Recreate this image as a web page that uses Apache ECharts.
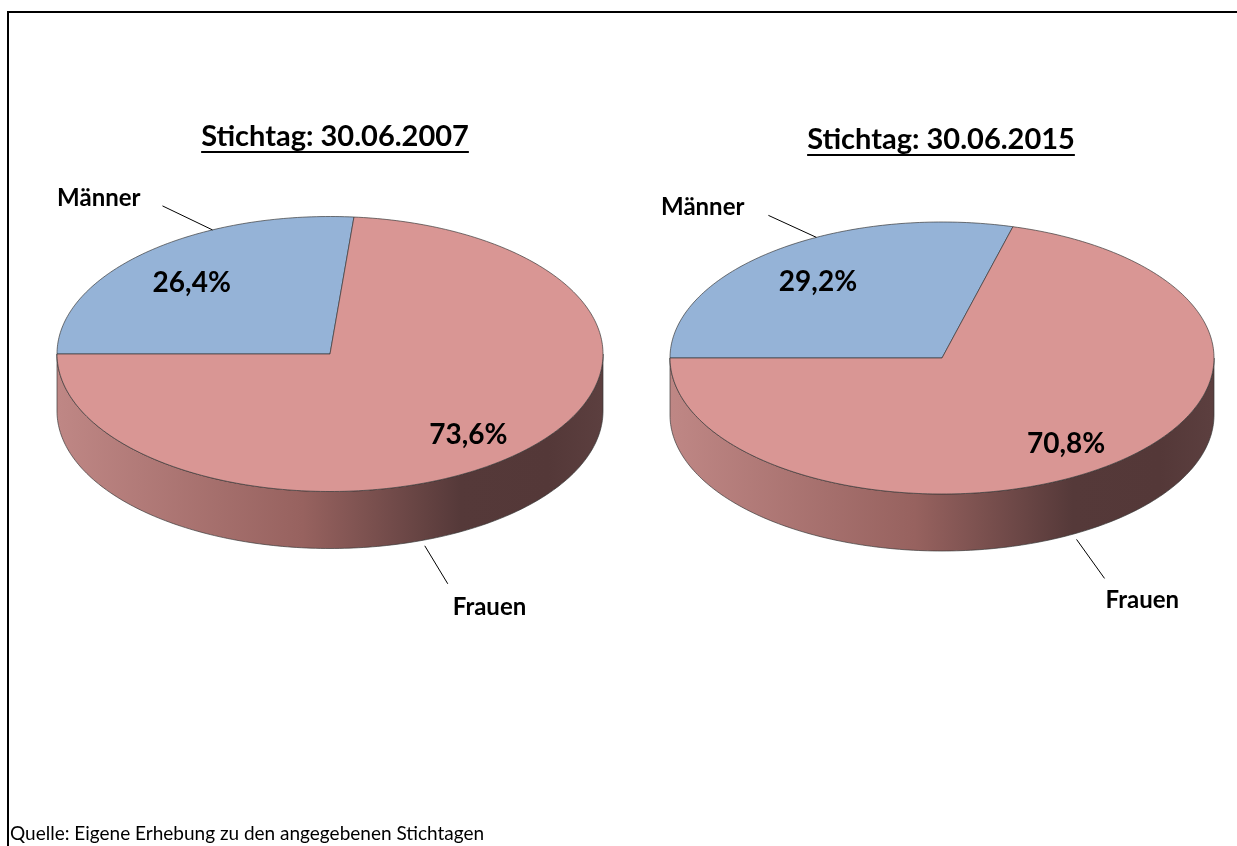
<!DOCTYPE html>
<html><head><meta charset="utf-8">
<script src="https://cdn.jsdelivr.net/npm/echarts@6/dist/echarts.min.js"></script>
<style>html,body{margin:0;padding:0;background:#fff}#c{width:1237px;height:846px}</style>
</head><body><div id="c"></div>
<script>
// ---------- data ----------
const categories = ['Männer', 'Frauen'];
const titles = ['Stichtag: 30.06.2007', 'Stichtag: 30.06.2015'];
const values2007 = [26.4, 73.6];
const values2015 = [29.2, 70.8];
const sourceNote = 'Quelle: Eigene Erhebung zu den angegebenen Stichtagen';

// ---------- style ----------
const FONT = 'Lato, "Open Sans", sans-serif';
const COLORS = ['#95B3D7', '#D99694'];
const SIDE_STOPS = [
  { offset: 0, color: '#BF8785' },
  { offset: 0.45, color: '#97625F' },
  { offset: 0.74, color: '#553939' },
  { offset: 0.9, color: '#543838' },
  { offset: 1, color: '#5C3F3F' }
];
const EDGE = 'rgba(55,55,55,0.85)';
const DEPTH = 57;        // px thickness of the pie
const START_DEG = 180;   // first slice starts at 9 o'clock, clockwise
const PCT_R = 0.75;
const PCT_DY = 5;
const SIZES = { title: 29, pct: 28, cat: 24, note: 19 };

const pies = [
  {
    values: values2007, title: titles[0],
    grid: { left: 57, top: 216.5, width: 546, height: 275 },
    titleX: 335, titleY: 137, underlineY: 152,
    anchors: [
      { deg: 115.5, r: 1.0, bottom: false, dx: -50, dy: -24, tx: -22, ty: -8, align: 'right' },
      { deg: -70.5, r: 1.04, bottom: true, dx: 23, dy: 38, tx: 5, ty: 23, align: 'left' }
    ]
  },
  {
    values: values2015, title: titles[1],
    grid: { left: 670, top: 222, width: 544, height: 272 },
    titleX: 941, titleY: 140, underlineY: 155,
    anchors: [
      { deg: 117.5, r: 1.0, bottom: false, dx: -48, dy: -22, tx: -24, ty: -8, align: 'right' },
      { deg: -61.6, r: 1.04, bottom: true, dx: 28, dy: 39, tx: 1, ty: 22, align: 'left' }
    ]
  }
];

function fmtPct(v) { return v.toFixed(1).replace('.', ',') + '%'; }

function sliceData(values) {
  const total = values.reduce((a, b) => a + b, 0);
  let cur = START_DEG;
  return values.map((v, i) => {
    const s = cur, e = cur - 360 * v / total;
    cur = e;
    return [s, e, v, i];
  });
}

function makeRender(pie) {
  return function (params, api) {
    const s = api.value(0), e = api.value(1), v = api.value(2), i = api.value(3);
    const rad = d => d * Math.PI / 180;
    const P = (d, r) => { r = r == null ? 1 : r; return api.coord([r * Math.cos(rad(d)), r * Math.sin(rad(d))]); };
    const children = [];
    const leftX = api.coord([-1, 0])[0], rightX = api.coord([1, 0])[0];

    // visible side (front half, where sin < 0)
    for (let k = -2; k <= 2; k++) {
      const a = Math.max(e, -180 + 360 * k), b = Math.min(s, 360 * k);
      if (b - a > 0.01) {
        const top = [], bot = [];
        const n = Math.max(2, Math.ceil(b - a));
        for (let j = 0; j <= n; j++) {
          const d = a + (b - a) * j / n;
          const p = P(d);
          top.push(p);
          bot.push([p[0], p[1] + DEPTH]);
        }
        children.push({
          type: 'polygon', z2: 1,
          shape: { points: top.concat(bot.reverse()) },
          style: {
            fill: { type: 'linear', x: leftX, y: 0, x2: rightX, y2: 0, global: true, colorStops: SIDE_STOPS },
            stroke: EDGE, lineWidth: 0.8
          }
        });
      }
    }

    // top face
    const pts = [api.coord([0, 0])];
    const n = Math.max(2, Math.ceil(Math.abs(s - e)));
    for (let j = 0; j <= n; j++) pts.push(P(s + (e - s) * j / n));
    children.push({
      type: 'polygon', z2: 5,
      shape: { points: pts },
      style: { fill: COLORS[i], stroke: EDGE, lineWidth: 0.8 }
    });

    // percentage label
    const mid = (s + e) / 2;
    const lp = P(mid, PCT_R);
    children.push({
      type: 'text', z2: 10, x: lp[0], y: lp[1] + PCT_DY,
      style: { text: fmtPct(v), font: 'bold ' + SIZES.pct + 'px ' + FONT, fill: '#000', align: 'center', verticalAlign: 'middle' }
    });

    // category label with leader line
    const an = pie.anchors[i];
    const ap = P(an.deg, an.r);
    const start = [ap[0], ap[1] + (an.bottom ? DEPTH : 0)];
    const end = [start[0] + an.dx, start[1] + an.dy];
    children.push({
      type: 'line', z2: 10,
      shape: { x1: start[0], y1: start[1], x2: end[0], y2: end[1] },
      style: { stroke: '#000', lineWidth: 1 }
    });
    children.push({
      type: 'text', z2: 10, x: end[0] + an.tx, y: end[1] + an.ty,
      style: { text: categories[i], font: 'bold ' + SIZES.cat + 'px ' + FONT, fill: '#000', align: an.align, verticalAlign: 'middle' }
    });

    return { type: 'group', children: children };
  };
}

const ctx = document.createElement('canvas').getContext('2d');
function textWidth(t, font) { ctx.font = font; return ctx.measureText(t).width; }

const grids = [], xAxes = [], yAxes = [], series = [], graphics = [];
pies.forEach((pie, k) => {
  grids.push(Object.assign({ containLabel: false }, pie.grid));
  xAxes.push({ gridIndex: k, type: 'value', min: -1, max: 1, show: false });
  yAxes.push({ gridIndex: k, type: 'value', min: -1, max: 1, show: false });
  series.push({
    type: 'custom', xAxisIndex: k, yAxisIndex: k, clip: false,
    renderItem: makeRender(pie), data: sliceData(pie.values), silent: true
  });
  const tf = 'bold ' + SIZES.title + 'px ' + FONT;
  const w = textWidth(pie.title, tf);
  graphics.push({
    type: 'text', x: pie.titleX, y: pie.titleY,
    style: { text: pie.title, font: tf, fill: '#000', align: 'center', verticalAlign: 'middle' }
  });
  graphics.push({
    type: 'line', shape: { x1: pie.titleX - w / 2, y1: pie.underlineY, x2: pie.titleX + w / 2, y2: pie.underlineY },
    style: { stroke: '#000', lineWidth: 2 }
  });
});
graphics.push({
  type: 'polyline', shape: { points: [[8, 846], [8, 12], [1237, 12]] },
  style: { stroke: '#000', lineWidth: 2, fill: null }
});
graphics.push({
  type: 'text', x: 10, y: 834,
  style: { text: sourceNote, font: SIZES.note + 'px ' + FONT, fill: '#000', align: 'left', verticalAlign: 'middle' }
});

const chart = echarts.init(document.getElementById('c'), null, { renderer: 'canvas' });
chart.setOption({
  animation: false,
  backgroundColor: '#fff',
  grid: grids, xAxis: xAxes, yAxis: yAxes,
  series: series,
  graphic: graphics
});
</script>
</body></html>
